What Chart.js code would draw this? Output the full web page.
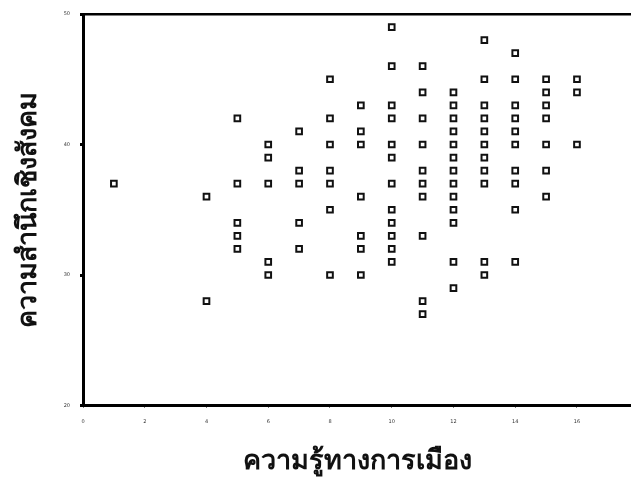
<!DOCTYPE html>
<html>
<head>
<meta charset="utf-8">
<style>
html,body{margin:0;padding:0;background:#fff;overflow:hidden;}
#wrap{width:631px;height:480px;position:relative;}
</style>
<script src="https://cdn.jsdelivr.net/npm/chart.js@4/dist/chart.umd.min.js"></script>
</head>
<body>
<div id="wrap"><canvas id="c" width="631" height="480"></canvas></div>
<script>
// x values (ความรู้ทางการเมือง) and the y values (ความสำนึกเชิงสังคม) observed at each
const knowledgeLevels = [1, 4, 5, 6, 7, 8, 9, 10, 11, 12, 13, 14, 15, 16];
const awareness1  = [37];
const awareness4  = [36, 28];
const awareness5  = [42, 37, 34, 33, 32];
const awareness6  = [40, 39, 37, 31, 30];
const awareness7  = [41, 38, 37, 34, 32];
const awareness8  = [45, 42, 40, 38, 37, 35, 30];
const awareness9  = [43, 41, 40, 36, 33, 32, 30];
const awareness10 = [49, 46, 43, 42, 40, 39, 37, 35, 34, 33, 32, 31];
const awareness11 = [46, 44, 42, 40, 38, 37, 36, 33, 28, 27];
const awareness12 = [44, 43, 42, 41, 40, 39, 38, 37, 36, 35, 34, 31, 29];
const awareness13 = [48, 45, 43, 42, 41, 40, 39, 38, 37, 31, 30];
const awareness14 = [47, 45, 43, 42, 41, 40, 38, 37, 35, 31];
const awareness15 = [45, 44, 43, 42, 40, 38, 36];
const awareness16 = [45, 44, 40];
const xTickLabels = [0, 2, 4, 6, 8, 10, 12, 14, 16];
const yTickLabels = [20, 30, 40, 50];
const xTitle = 'ความรู้ทางการเมือง';
const yTitle = 'ความสำนึกเชิงสังคม';

const awarenessByLevel = [awareness1, awareness4, awareness5, awareness6, awareness7, awareness8,
  awareness9, awareness10, awareness11, awareness12, awareness13, awareness14, awareness15, awareness16];
const points = [];
knowledgeLevels.forEach((x, i) => awarenessByLevel[i].forEach(y => points.push({x: x, y: y})));

const tickFont = {family: 'DejaVu Sans', size: 5};
const titleFont = {family: 'Noto Sans, DejaVu Sans, sans-serif', size: 27, weight: 'bold'};

new Chart(document.getElementById('c'), {
  type: 'scatter',
  data: {
    datasets: [{
      data: points,
      pointStyle: 'rect',
      pointRadius: 4,
      pointHoverRadius: 4,
      pointBorderWidth: 2,
      pointBackgroundColor: '#fff',
      pointBorderColor: '#111'
    }]
  },
  options: {
    responsive: false,
    animation: false,
    events: [],
    layout: {autoPadding: false, padding: {left: 0, right: 0, top: 14, bottom: 0}},
    plugins: {legend: {display: false}, tooltip: {enabled: false}},
    scales: {
      x: {
        type: 'linear',
        min: 0,
        max: 17.75,
        afterBuildTicks: s => { s.ticks = xTickLabels.map(v => ({value: v})); },
        afterFit: s => { s.height = 74.5; },
        ticks: {font: tickFont, color: '#333', padding: 11, maxRotation: 0, autoSkip: false},
        grid: {display: true, drawOnChartArea: false, drawTicks: true, tickLength: 2, color: '#000', lineWidth: 1},
        border: {display: true, color: '#000', width: 3},
        title: {display: true, text: xTitle, font: titleFont, color: '#111', padding: {top: 0, bottom: 2}}
      },
      xTop: {
        type: 'linear',
        position: 'top',
        min: 0,
        max: 17.75,
        afterFit: s => { s.height = 0; },
        ticks: {display: false},
        grid: {display: false},
        border: {display: true, color: '#000', width: 2.5}
      },
      y: {
        type: 'linear',
        min: 20,
        max: 50,
        afterBuildTicks: s => { s.ticks = yTickLabels.map(v => ({value: v})); },
        afterFit: s => { s.width = 83; },
        ticks: {font: tickFont, color: '#333', padding: 10, autoSkip: false},
        grid: {display: true, drawOnChartArea: false, drawTicks: true, tickLength: 3, color: '#000', lineWidth: 3},
        border: {display: true, color: '#000', width: 3},
        title: {display: true, text: yTitle, font: titleFont, color: '#111', padding: {top: 12, bottom: 0}}
      }
    }
  }
});
</script>
</body>
</html>
